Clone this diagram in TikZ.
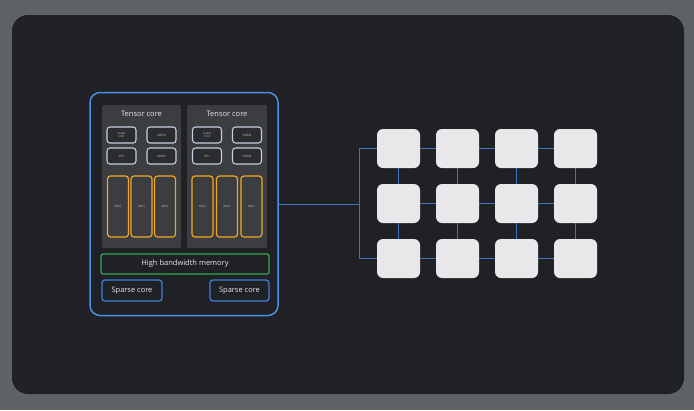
\documentclass[tikz,border=0pt]{standalone}
\usepackage{fontspec}
\setmainfont{Open Sans}
\definecolor{bggray}{HTML}{5F6368}
\definecolor{panel}{HTML}{202124}
\definecolor{corefill}{HTML}{3C3D40}
\definecolor{unitfill}{HTML}{2B2C2F}
\definecolor{unitline}{HTML}{C6D0E0}
\definecolor{mxuline}{HTML}{F2A922}
\definecolor{chipblue}{HTML}{4A8FE7}
\definecolor{sparseblue}{HTML}{3F7FDC}
\definecolor{hbmgreen}{HTML}{34A853}
\definecolor{gridfill}{HTML}{E8E8EA}
\definecolor{linkblue}{HTML}{4272C4}
\definecolor{txt}{HTML}{E8EAED}
\definecolor{smalltxt}{HTML}{BDC1C6}
\begin{document}
\begin{tikzpicture}[x=1pt,y=-1pt,
  chip/.style={draw=chipblue, line width=1.5pt, rounded corners=10pt, fill=panel, inner sep=0pt},
  core/.style={fill=corefill, rounded corners=1.5pt, inner sep=0pt, minimum height=143pt},
  coretitle/.style={text=txt, font=\fontsize{7.5}{8}\selectfont, inner sep=0pt},
  unit/.style={draw=unitline, line width=1.1pt, fill=unitfill, rounded corners=3pt, minimum width=29pt, minimum height=16pt, inner sep=0pt, text=smalltxt, font=\fontsize{3}{3.4}\selectfont, align=center},
  mxu/.style={draw=mxuline, line width=1.2pt, fill=corefill, rounded corners=3pt, minimum width=21pt, minimum height=61pt, inner sep=0pt, text=smalltxt, font=\fontsize{3}{3.4}\selectfont},
  hbm/.style={draw=hbmgreen, line width=1.2pt, fill=panel, rounded corners=2pt, minimum width=168pt, minimum height=20pt, inner sep=0pt, text=txt, font=\fontsize{7.5}{8}\selectfont},
  sparse/.style={draw=sparseblue, line width=1.3pt, fill=panel, rounded corners=3pt, minimum height=21pt, inner sep=0pt, text=txt, font=\fontsize{7.5}{8}\selectfont},
  gbox/.style={fill=gridfill, rounded corners=6pt, minimum width=43pt, minimum height=39pt, inner sep=0pt},
  link/.style={draw=linkblue, line width=1pt}
]
\useasboundingbox (0,0) rectangle (694,410);
\fill[bggray] (0,0) rectangle (694,410);
\fill[panel, rounded corners=16pt] (12,15) rectangle (684,394);

% chip
\node[chip, minimum width=188pt, minimum height=223pt] (chip) at (184,204) {};

% tensor cores
\node[core, minimum width=79pt] (coreA) at (141.5,176.5) {};
\node[core, minimum width=80pt] (coreB) at (227,176.5) {};
\node[coretitle] (titleA) at (141.5,114) {Tensor core};
\node[coretitle] (titleB) at (227,114) {Tensor core};

\node[unit] (scalarA) at (121.5,135) {Scalar\\Unit};
\node[unit] (smemA) at (161.5,135) {SMEM};
\node[unit] (vpuA) at (121.5,156) {VPU};
\node[unit] (vmemA) at (161.5,156) {VMEM};
\node[unit] (scalarB) at (207,135) {Scalar\\Unit};
\node[unit] (smemB) at (247,135) {SMEM};
\node[unit] (vpuB) at (207,156) {VPU};
\node[unit] (vmemB) at (247,156) {VMEM};

\node[mxu] (mxuA1) at (118,206.5) {MXU};
\node[mxu] (mxuA2) at (141.5,206.5) {MXU};
\node[mxu] (mxuA3) at (165,206.5) {MXU};
\node[mxu] (mxuB1) at (202.5,206.5) {MXU};
\node[mxu] (mxuB2) at (227,206.5) {MXU};
\node[mxu] (mxuB3) at (251.5,206.5) {MXU};

\node[hbm] (hbm) at (185,264) {High bandwidth memory};
\node[sparse, minimum width=60pt] (sparseA) at (132,290.5) {Sparse core};
\node[sparse, minimum width=59pt] (sparseB) at (239.5,290.5) {Sparse core};

% grid of chips
\foreach \r/\y in {1/148.5,2/203.5,3/258.5}{
  \foreach \c/\x in {1/398.5,2/457.5,3/516.5,4/575.5}{
    \node[gbox] (g\r\c) at (\x,\y) {};
  }
}
\foreach \r in {1,2,3}{
  \draw[link] (g\r1.east) -- (g\r2.west);
  \draw[link] (g\r2.east) -- (g\r3.west);
  \draw[link] (g\r3.east) -- (g\r4.west);
}
\foreach \c in {1,2,3,4}{
  \draw[link] (g1\c.south) -- (g2\c.north);
  \draw[link] (g2\c.south) -- (g3\c.north);
}

% connection chip -> grid
\coordinate (j) at (359,204);
\draw[link] (chip.east) -- (j);
\draw[link] (g11.west) -- (g11.west -| j) -- (g31.west -| j) -- (g31.west);
\end{tikzpicture}
\end{document}
